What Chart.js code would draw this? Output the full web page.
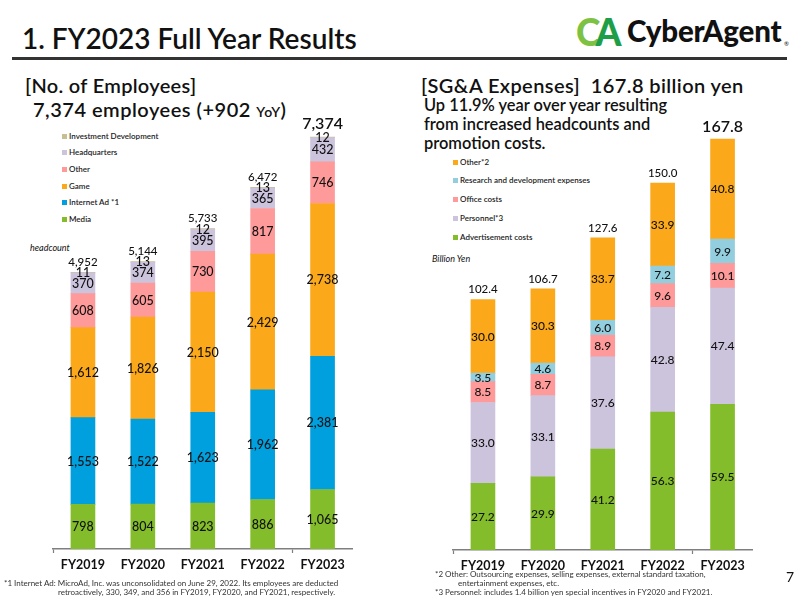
<!DOCTYPE html>
<html>
<head>
<meta charset="utf-8">
<script src="https://cdn.jsdelivr.net/npm/chart.js@4"></script>
<style>
  html, body { margin:0; padding:0; background:#fff; }
  body { width:800px; height:600px; position:relative; overflow:hidden; font-family:'Lato', sans-serif; color:#111; }
  .t { position:absolute; white-space:nowrap; line-height:1; }
  canvas { position:absolute; }
  .lg { position:absolute; font-size:8px; font-weight:600; line-height:8px; white-space:nowrap; color:#222; }
  .lg i { display:inline-block; width:5px; height:5px; margin-right:2px; vertical-align:0px; }
  .fn { position:absolute; font-size:8px; line-height:8px; white-space:nowrap; color:#333; }
</style>
</head>
<body>
<div class="t" style="left:22px;top:24px;font-size:28px;font-weight:600;">1. FY2023 Full Year Results</div>
<div style="position:absolute;left:12px;top:57px;width:775px;height:3px;background:#333;"></div>
<div class="t" style="left:576px;top:13px;font-size:37px;font-weight:900;letter-spacing:-5px;"><span style="color:#7dc242">C</span><span style="color:#1f9e48">A</span></div>
<div class="t" style="left:627px;top:16px;font-size:29.5px;font-weight:900;color:#111;letter-spacing:-0.2px;">CyberAgent</div>
<div class="t" style="left:784px;top:41px;font-size:6px;">®</div>

<div class="t" style="left:25px;top:75px;font-size:20px;font-weight:600;letter-spacing:0.3px;">[No. of Employees]</div>
<div class="t" style="left:33px;top:99px;font-size:20px;font-weight:600;letter-spacing:0.5px;">7,374 employees (+902 <span style="font-size:14px">YoY</span>)</div>

<div class="t" style="left:421px;top:75px;font-size:20px;font-weight:600;letter-spacing:0.4px;">[SG&amp;A Expenses]&nbsp; 167.8 billion yen</div>
<div class="t" style="left:424px;top:95px;font-size:16.4px;font-weight:600;line-height:19px;">Up 11.9% year over year resulting<br>from increased headcounts and<br>promotion costs.</div>

<div class="t" style="left:30px;top:243px;font-size:9px;font-style:italic;">headcount</div>
<div class="t" style="left:432px;top:254px;font-size:9px;font-style:italic;">Billion Yen</div>

<div id="legL"></div>
<div id="legR"></div>

<canvas id="cL" width="400" height="480" style="left:0;top:100px;"></canvas>
<canvas id="cR" width="400" height="480" style="left:400px;top:100px;"></canvas>

<div class="fn" style="left:4px;top:579px;">*1 Internet Ad: MicroAd, Inc. was unconsolidated on June 29, 2022. Its employees are deducted</div>
<div class="fn" style="left:58px;top:588px;">retroactively, 330, 349, and 356 in FY2019, FY2020, and FY2021, respectively.</div>
<div class="fn" style="left:435px;top:570px;">*2 Other: Outsourcing expenses, selling expenses, external standard taxation,</div>
<div class="fn" style="left:458px;top:579px;">entertainment expenses, etc.</div>
<div class="fn" style="left:435px;top:588px;">*3 Personnel: includes 1.4 billion yen special incentives in FY2020 and FY2021.</div>
<div class="t" style="left:786px;top:570px;font-size:14px;">7</div>

<script>
// ---------- DATA ----------
const years = ['FY2019', 'FY2020', 'FY2021', 'FY2022', 'FY2023'];

// Employees (headcount)
const empSeriesNames = ['Media', 'Internet Ad *1', 'Game', 'Other', 'Headquarters', 'Investment Development'];
const empMedia      = [798, 804, 823, 886, 1065];
const empInternetAd = [1553, 1522, 1623, 1962, 2381];
const empGame       = [1612, 1826, 2150, 2429, 2738];
const empOther      = [608, 605, 730, 817, 746];
const empHQ         = [370, 374, 395, 365, 432];
const empInvDev     = [11, 13, 12, 13, 12];
const empTotals     = [4952, 5144, 5733, 6472, 7374];

// SG&A expenses (billion yen)
const sgaSeriesNames = ['Advertisement costs', 'Personnel*3', 'Office costs', 'Research and development expenses', 'Other*2'];
const sgaAdvertising = [27.2, 29.9, 41.2, 56.3, 59.5];
const sgaPersonnel   = [33.0, 33.1, 37.6, 42.8, 47.4];
const sgaOffice      = [8.5, 8.7, 8.9, 9.6, 10.1];
const sgaRnD         = [3.5, 4.6, 6.0, 7.2, 9.9];
const sgaOther       = [30.0, 30.3, 33.7, 33.9, 40.8];
const sgaTotals      = [102.4, 106.7, 127.6, 150.0, 167.8];

// ---------- STYLE ----------
const C = {
  green:'#84bd2b', blue:'#009fdd', orange:'#fca81b', pink:'#ff9a9a',
  lav:'#ccc3dc', beige:'#c8be94', lblue:'#93cedf'
};
const empColors = [C.green, C.blue, C.orange, C.pink, C.lav, C.beige];
const sgaColors = [C.green, C.lav, C.pink, C.lblue, C.orange];

function legend(id, names, colors, x, ys) {
  const host = document.getElementById(id);
  names.slice().reverse().forEach((n, k) => {
    const idx = names.length - 1 - k;
    const d = document.createElement('div');
    d.className = 'lg';
    d.style.left = x + 'px';
    d.style.top = (ys[k] - 4) + 'px';
    const sq = document.createElement('i');
    sq.style.background = colors[idx];
    d.appendChild(sq);
    d.appendChild(document.createTextNode(n));
    host.appendChild(d);
  });
}
legend('legL', empSeriesNames, empColors, 62, [135.7, 152.3, 169, 185.7, 202.3, 219]);
legend('legR', sgaSeriesNames, sgaColors, 453, [161.7, 180, 199, 217.7, 236.7]);

const valueLabels = {
  id: 'valueLabels',
  afterDatasetsDraw(chart, args, opts) {
    const ctx = chart.ctx;
    ctx.save();
    ctx.textAlign = 'center';
    ctx.textBaseline = 'alphabetic';
    ctx.fillStyle = '#111';
    const fs = opts.size;
    ctx.font = '500 ' + fs + 'px Lato';
    chart.data.datasets.forEach((ds, di) => {
      const meta = chart.getDatasetMeta(di);
      meta.data.forEach((el, i) => {
        const yc = (el.y + el.base) / 2;
        ctx.fillText(opts.format(ds.data[i]), el.x, yc + fs * 0.36);
      });
    });
    const top = chart.getDatasetMeta(chart.data.datasets.length - 1);
    opts.totals.forEach((t, i) => {
      const el = top.data[i];
      const big = i === opts.totals.length - 1;
      const s = big ? opts.bigSize : opts.totSize;
      ctx.font = (big ? '600 ' : '500 ') + s + 'px Lato';
      ctx.fillText(opts.format(t), el.x, el.y - (big ? opts.bigGap : opts.totGap));
    });
    ctx.restore();
  }
};

function makeChart(id, series, names, colors, max, pad, axisH, fmt, lab) {
  return new Chart(document.getElementById(id), {
    type: 'bar',
    data: {
      labels: years,
      datasets: series.map((d, i) => ({
        label: names[i], data: d, backgroundColor: colors[i],
        borderWidth: 0, barThickness: 24, stack: 's'
      }))
    },
    options: {
      responsive: false, animation: false, devicePixelRatio: 1,
      layout: { padding: pad },
      plugins: { legend: { display: false }, tooltip: { enabled: false }, valueLabels: Object.assign({ format: fmt }, lab) },
      scales: {
        x: {
          stacked: true,
          afterFit: s => { s.height = axisH; },
          grid: {
            display: true, drawOnChartArea: false, drawTicks: true, tickLength: 4,
            tickColor: c => (c.index === 0 || c.index === 4) ? '#7f7f7f' : 'rgba(0,0,0,0)',
            tickWidth: 1.2
          },
          border: { display: true, color: '#7f7f7f', width: 1.5 },
          ticks: { color: '#111', font: { family: 'Lato', size: 12.5, weight: '700' }, padding: 4, maxRotation: 0 }
        },
        y: { stacked: true, display: false, min: 0, max: max }
      }
    },
    plugins: [valueLabels]
  });
}

makeChart('cL', [empMedia, empInternetAd, empGame, empOther, empHQ, empInvDev], empSeriesNames, empColors,
  8000, { left: 53, right: 47.5, top: 2, bottom: 0 }, 31,
  v => v.toLocaleString('en-US'),
  { totals: empTotals, size: 12.5, totSize: 11.5, bigSize: 16, totGap: 6.2, bigGap: 7.6 });

makeChart('cR', [sgaAdvertising, sgaPersonnel, sgaOffice, sgaRnD, sgaOther], sgaSeriesNames, sgaColors,
  180, { left: 53, right: 47.5, top: 9, bottom: 0 }, 30,
  v => v.toFixed(1),
  { totals: sgaTotals, size: 12, totSize: 11.5, bigSize: 16, totGap: 6.3, bigGap: 7.3 });
</script>
</body>
</html>
